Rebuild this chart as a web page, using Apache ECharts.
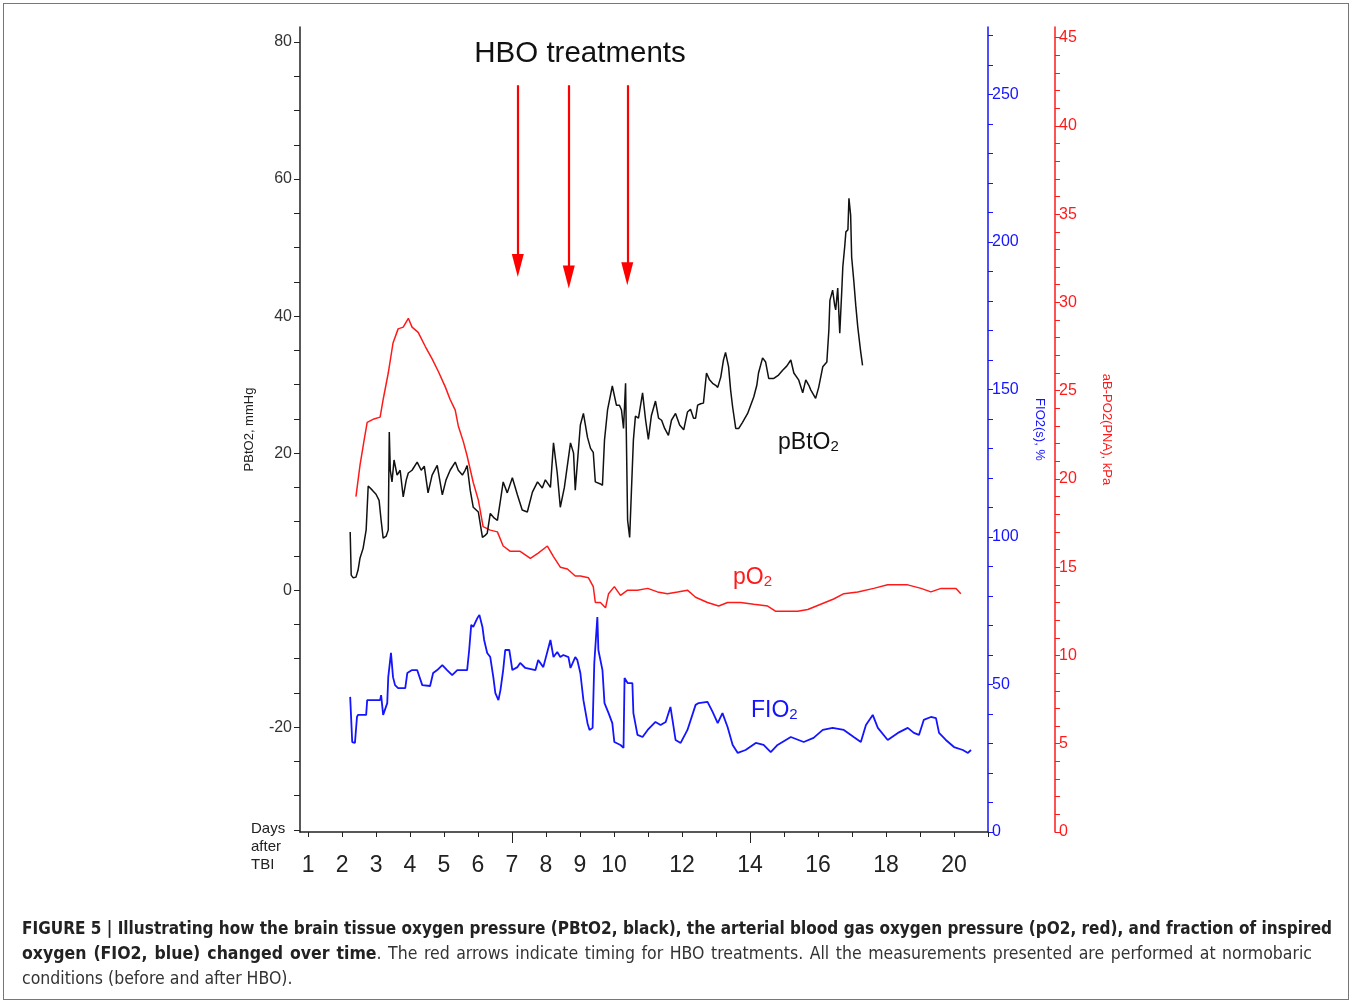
<!DOCTYPE html>
<html>
<head>
<meta charset="utf-8">
<title>FIGURE 5</title>
<script src="https://cdn.jsdelivr.net/npm/echarts@6/dist/echarts.min.js"></script>
<style>
  html, body { margin: 0; padding: 0; background: #fff; }
  #wrap { position: relative; width: 1352px; height: 1003px; overflow: hidden; }
  #chart { position: absolute; left: 0; top: 0; width: 1352px; height: 1003px; }
  #frame { position: absolute; left: 3px; top: 3px; width: 1344px; height: 995px; border: 1px solid #777; pointer-events: none; }
  #caption { position: absolute; left: 22px; top: 916px; width: 1310px; font-family: "Liberation Sans Narrow", "DejaVu Sans Condensed", sans-serif; font-size: 17.5px; line-height: 25px; color: #333; }
  #caption .ln { display: block; white-space: nowrap; }
  #caption .ln span.fit { display: inline-block; white-space: nowrap; transform-origin: 0 50%; }
  #caption b { color: #222; }
</style>
</head>
<body>
<div id="wrap">
  <div id="chart"></div>
  <div id="frame"></div>
  <div id="caption">
    <div class="ln"><span class="fit" data-w="1310"><b>FIGURE 5 | Illustrating how the brain tissue oxygen pressure (PBtO2, black), the arterial blood gas oxygen pressure (pO2, red), and fraction of inspired</b></span></div>
    <div class="ln"><span class="fit" data-w="1290"><b>oxygen (FIO2, blue) changed over time</b>. The red arrows indicate timing for HBO treatments. All the measurements presented are performed at normobaric</span></div>
    <div class="ln"><span>conditions (before and after HBO).</span></div>
  </div>
</div>
<script>
// ---- data (days after TBI) ----
const pbtDays = [2.24,2.27,2.33,2.41,2.47,2.53,2.62,2.71,2.77,2.89,
  3.00,3.09,3.15,3.21,3.30,3.36,3.39,3.42,3.47,3.53,
  3.62,3.71,3.80,3.89,3.95,4.06,4.21,4.33,4.42,4.53,
  4.65,4.80,4.95,5.06,5.18,5.33,5.42,5.54,5.62,5.68,
  5.77,5.86,6.01,6.13,6.21,6.27,6.36,6.48,6.57,6.66,
  6.74,6.86,7.01,7.16,7.30,7.45,7.60,7.75,7.89,7.98,
  8.13,8.22,8.33,8.42,8.54,8.72,8.81,8.86,9.01,9.10,
  9.22,9.31,9.39,9.45,9.60,9.66,9.72,9.81,9.95,10.07,
  10.16,10.22,10.28,10.34,10.40,10.46,10.51,10.57,10.63,10.72,
  10.84,10.93,11.01,11.10,11.22,11.31,11.40,11.49,11.60,11.69,
  11.81,11.93,12.05,12.16,12.25,12.34,12.40,12.46,12.55,12.63,
  12.72,12.81,12.90,12.99,13.05,13.14,13.22,13.28,13.37,13.43,
  13.49,13.58,13.67,13.78,13.93,14.02,14.11,14.20,14.25,14.37,
  14.46,14.55,14.70,14.84,14.96,15.08,15.20,15.29,15.43,15.55,
  15.64,15.73,15.79,15.93,16.02,16.14,16.26,16.32,16.35,16.43,
  16.49,16.52,16.58,16.64,16.70,16.73,16.79,16.82,16.88,16.91,
  16.96,16.99,17.05,17.11,17.17,17.25,17.31];
const pbtVals = [8.5,2.2,1.8,1.9,2.9,4.7,6.1,8.8,15.2,14.6,
  14.0,13.1,10.2,7.6,7.9,8.8,23.1,17.5,15.8,19.0,
  16.8,17.5,13.6,16.1,17.1,17.5,18.7,17.5,18.1,14.2,
  16.8,18.2,13.9,16.1,17.5,18.7,17.5,16.8,17.5,18.2,
  14.6,12.1,11.4,7.7,8.0,8.3,11.2,10.5,10.2,13.1,
  15.8,14.2,16.4,13.9,11.7,11.4,14.3,15.8,14.9,16.1,
  15.0,21.5,17.1,12.1,15.0,21.5,20.0,14.6,24.1,25.8,
  22.3,20.7,20.1,15.8,15.5,15.3,21.9,26.3,29.8,27.0,
  27.0,26.3,23.6,30.2,10.2,7.7,14.2,21.9,25.4,25.1,
  28.8,24.8,22.0,25.5,27.6,25.1,24.8,23.6,22.6,24.8,
  25.8,24.1,23.4,26.0,26.4,25.1,25.1,27.0,27.2,27.3,
  31.7,30.7,30.2,29.9,29.6,31.1,33.6,34.7,32.6,29.2,
  26.7,23.6,23.6,24.5,25.8,27.0,28.2,29.9,31.7,33.9,
  33.3,30.9,30.9,31.4,32.1,32.7,33.6,31.7,30.7,28.8,
  30.7,29.9,29.2,28.0,29.6,32.6,33.3,38.0,42.3,43.8,
  41.6,40.9,44.1,37.5,43.8,47.2,50.4,52.3,52.6,57.2,
  54.7,48.6,45.3,41.6,38.4,35.0,32.8];

const fioDays = [2.24,2.30,2.38,2.44,2.47,2.71,2.74,3.12,3.15,3.21,
  3.33,3.36,3.44,3.50,3.56,3.65,3.86,3.92,4.06,4.21,
  4.36,4.59,4.68,4.80,4.95,5.09,5.24,5.39,5.68,5.74,
  5.80,5.86,5.98,6.04,6.13,6.18,6.27,6.36,6.45,6.51,
  6.60,6.66,6.74,6.80,6.92,7.01,7.16,7.24,7.39,7.69,
  7.77,7.92,8.13,8.22,8.33,8.42,8.51,8.66,8.72,8.86,
  8.92,9.01,9.10,9.22,9.28,9.37,9.42,9.51,9.54,9.66,
  9.72,9.84,9.95,10.01,10.19,10.28,10.31,10.40,10.54,10.57,
  10.69,10.84,10.99,11.22,11.37,11.52,11.66,11.72,11.81,11.96,
  12.16,12.40,12.49,12.75,12.90,13.05,13.19,13.34,13.49,13.64,
  13.87,14.17,14.40,14.61,14.81,15.20,15.58,15.87,16.14,16.43,
  16.76,17.05,17.26,17.41,17.61,17.76,18.05,18.35,18.64,18.82,
  18.97,19.11,19.32,19.47,19.56,19.76,20.00,20.26,20.41,20.50];
const fioVals = [45.8,30.5,30.2,39.0,39.7,39.7,44.7,44.7,46.4,39.7,
  43.7,52.5,60.7,52.5,49.8,48.8,48.8,53.9,54.9,54.9,
  49.8,49.5,53.9,54.9,56.6,54.9,53.2,54.9,54.9,61.7,
  70.2,69.5,72.5,73.6,69.5,65.1,60.7,59.3,52.5,47.1,
  44.7,48.1,54.9,61.7,61.7,54.9,55.9,57.3,55.6,54.9,
  58.3,55.9,65.1,59.3,61.0,59.3,60.0,59.3,55.6,59.3,
  58.3,53.9,44.7,36.9,34.6,35.3,57.3,72.9,61.7,54.9,
  43.7,40.3,36.9,30.5,29.5,28.5,52.2,50.5,50.5,40.3,
  32.9,32.2,34.6,37.3,36.3,37.3,42.4,38.0,31.2,30.2,
  34.6,43.1,43.7,44.1,40.7,36.9,40.3,35.6,29.5,26.8,
  27.8,30.2,29.5,27.1,29.5,32.2,30.5,31.9,34.6,35.3,
  34.6,32.2,30.5,36.3,39.7,35.3,31.2,33.6,35.3,33.6,
  32.9,38.0,39.0,38.6,33.6,31.2,28.8,27.8,26.8,27.8];

const po2Days = [2.41,2.53,2.65,2.74,2.94,3.12,3.21,3.36,3.50,3.65,
  3.80,3.95,4.06,4.24,4.45,4.65,4.83,5.04,5.18,5.33,
  5.42,5.57,5.68,5.86,6.01,6.15,6.36,6.57,6.74,6.95,
  7.24,7.54,7.77,8.04,8.22,8.42,8.63,8.86,9.01,9.25,
  9.39,9.45,9.60,9.75,9.84,10.01,10.19,10.40,10.69,10.99,
  11.28,11.57,11.87,12.16,12.40,12.75,13.08,13.34,13.72,14.11,
  14.52,14.76,15.11,15.40,15.70,16.08,16.46,16.76,17.17,17.64,
  18.05,18.64,19.03,19.32,19.62,20.06,20.20];
const po2Vals = [19.0,20.8,22.2,23.2,23.4,23.5,24.5,26.0,27.7,28.5,
  28.6,29.1,28.6,28.3,27.5,26.8,26.1,25.2,24.5,23.9,
  23.0,22.1,21.3,19.8,18.8,17.3,17.1,17.0,16.2,15.9,
  15.9,15.5,15.8,16.2,15.6,15.0,14.9,14.5,14.5,14.4,
  13.9,13.0,13.0,12.7,13.5,13.9,13.4,13.7,13.7,13.8,
  13.6,13.5,13.6,13.7,13.3,13.0,12.8,13.0,13.0,12.9,
  12.8,12.5,12.5,12.5,12.6,12.9,13.2,13.5,13.6,13.8,
  14.0,14.0,13.8,13.6,13.8,13.8,13.5];

// HBO treatment arrows (day, from / to on the PBtO2 scale)
const hboDays = [7.17, 8.67, 10.39];
const hboTop = 73.7;
const hboEnd = [47.4, 45.7, 46.2];

// ticks and labels
const xTickDays = [1,2,3,4,5,6,7,8,9,10,11,12,13,14,15,16,17,18,19,20,21];
const xWeekTicks = [7, 14];
const xLabelDays = [1,2,3,4,5,6,7,8,9,10,12,14,16,18,20];
const pbtTicks = [-35,-30,-25,-20,-15,-10,-5,0,5,10,15,20,25,30,35,40,45,50,55,60,65,70,75,80];
const pbtLabels = [-20,0,20,40,60,80];
const fioTicks = [0,10,20,30,40,50,60,70,80,90,100,110,120,130,140,150,160,170,180,190,200,210,220,230,240,250,260,270];
const fioLabels = [0,50,100,150,200,250];
const po2Ticks = [0,1,2,3,4,5,6,7,8,9,10,11,12,13,14,15,16,17,18,19,20,21,22,23,24,25,26,27,28,29,30,31,32,33,34,35,36,37,38,39,40,41,42,43,44,45];
const po2Labels = [0,5,10,15,20,25,30,35,40,45];

const zip = (a, b) => a.map((d, i) => [d, b[i]]);

const FONT = '"Liberation Sans", Arial, sans-serif';
const BLACK = '#111';
const RED = '#ff1a1a';
const BLUE = '#1414ff';

const chart = echarts.init(document.getElementById('chart'));

const option = {
  animation: false,
  textStyle: { fontFamily: FONT },
  grid: { left: 300, right: 364, top: 27, bottom: 171 },
  xAxis: [
    {
      type: 'value', min: 0.764, max: 21,
      axisLine: { onZero: false, lineStyle: { color: '#222', width: 1.5 } },
      axisTick: { customValues: xTickDays, length: 5, lineStyle: { color: '#222' } },
      axisLabel: { customValues: xLabelDays, fontSize: 23, color: '#222', margin: 22 },
      splitLine: { show: false }
    },
    {
      type: 'value', min: 0.764, max: 21, position: 'bottom',
      axisLine: { show: false, onZero: false },
      axisTick: { customValues: xWeekTicks, length: 11, lineStyle: { color: '#222' } },
      axisLabel: { show: false },
      splitLine: { show: false }
    }
  ],
  yAxis: [
    {
      type: 'value', position: 'left', min: -35.3, max: 82.2,
      name: 'PBtO2, mmHg', nameLocation: 'middle', nameGap: 44, nameRotate: 90,
      nameTextStyle: { fontSize: 13, color: '#222' },
      axisLine: { show: true, onZero: false, lineStyle: { color: '#222', width: 1.5 } },
      axisTick: { show: true, customValues: pbtTicks, length: 6, lineStyle: { color: '#222' } },
      axisLabel: { customValues: pbtLabels, fontSize: 16, color: '#333', margin: 8 },
      splitLine: { show: false }
    },
    {
      type: 'value', position: 'right', offset: 0, min: 0, max: 272.9,
      name: 'FIO2(s), %', nameLocation: 'middle', nameGap: 45, nameRotate: -90,
      nameTextStyle: { fontSize: 13, color: BLUE },
      axisLine: { show: true, onZero: false, lineStyle: { color: BLUE, width: 1.5 } },
      axisTick: { show: true, customValues: fioTicks, length: 5, lineStyle: { color: BLUE } },
      axisLabel: { customValues: fioLabels, fontSize: 16, color: BLUE, margin: 4 },
      splitLine: { show: false }
    },
    {
      type: 'value', position: 'right', offset: 67, min: 0, max: 45.6,
      name: 'aB-PO2(PNA), kPa', nameLocation: 'middle', nameGap: 45, nameRotate: -90,
      nameTextStyle: { fontSize: 13, color: RED },
      axisLine: { show: true, onZero: false, lineStyle: { color: RED, width: 1.5 } },
      axisTick: { show: true, customValues: po2Ticks, length: 5, lineStyle: { color: RED } },
      axisLabel: { customValues: po2Labels, fontSize: 16, color: RED, margin: 4 },
      splitLine: { show: false }
    }
  ],
  graphic: [
    { type: 'text', x: 580, y: 54, silent: true,
      style: { text: 'HBO treatments', fontSize: 29.5, fontFamily: FONT, fill: '#111', align: 'center', verticalAlign: 'middle' } },
    { type: 'text', x: 251, y: 820, silent: true,
      style: { text: 'Days\nafter\nTBI', fontSize: 15, lineHeight: 18, fontFamily: FONT, fill: '#222', align: 'left', verticalAlign: 'top' } },
    { type: 'text', x: 778, y: 443, silent: true,
      style: { text: '{m|pBtO}{s|2}', fill: BLACK, verticalAlign: 'middle',
        rich: { m: { fontSize: 23, fontFamily: FONT, fill: BLACK }, s: { fontSize: 15, fontFamily: FONT, fill: BLACK, verticalAlign: 'bottom' } } } },
    { type: 'text', x: 733, y: 578, silent: true,
      style: { text: '{m|pO}{s|2}', fill: RED, verticalAlign: 'middle',
        rich: { m: { fontSize: 23, fontFamily: FONT, fill: RED }, s: { fontSize: 15, fontFamily: FONT, fill: RED, verticalAlign: 'bottom' } } } },
    { type: 'text', x: 751, y: 711, silent: true,
      style: { text: '{m|FIO}{s|2}', fill: BLUE, verticalAlign: 'middle',
        rich: { m: { fontSize: 23, fontFamily: FONT, fill: BLUE }, s: { fontSize: 15, fontFamily: FONT, fill: BLUE, verticalAlign: 'bottom' } } } }
  ],
  series: [
    {
      name: 'pO2', type: 'line', xAxisIndex: 0, yAxisIndex: 2,
      data: zip(po2Days, po2Vals), showSymbol: false, silent: true,
      lineStyle: { color: RED, width: 1.5 }, itemStyle: { color: RED }
    },
    {
      name: 'FIO2', type: 'line', xAxisIndex: 0, yAxisIndex: 1,
      data: zip(fioDays, fioVals), showSymbol: false, silent: true,
      lineStyle: { color: BLUE, width: 1.8 }, itemStyle: { color: BLUE }
    },
    {
      name: 'pBtO2', type: 'line', xAxisIndex: 0, yAxisIndex: 0,
      data: zip(pbtDays, pbtVals), showSymbol: false, silent: true,
      lineStyle: { color: BLACK, width: 1.5 }, itemStyle: { color: BLACK },
      markLine: {
        silent: true,
        animation: false,
        symbol: ['none', 'triangle'],
        label: { show: false },
        lineStyle: { color: '#ff0000', width: 2.2, type: 'solid' },
        data: hboDays.map((d, i) => [
          { coord: [d, hboTop], symbol: 'none' },
          { coord: [d, hboEnd[i]], symbol: 'triangle', symbolSize: [12, 23] }
        ])
      }
    }
  ]
};

chart.setOption(option);

// stretch the justified caption lines to the column width
document.querySelectorAll('#caption .fit').forEach(el => {
  const target = +el.dataset.w;
  const text = el.textContent;
  const spaces = (text.match(/ /g) || []).length;
  const w = el.getBoundingClientRect().width;
  if (w < target && spaces) {
    el.style.wordSpacing = ((target - w) / spaces) + 'px';
  } else if (w > target) {
    el.style.transform = 'scaleX(' + (target / w) + ')';
  }
});
</script>
</body>
</html>
